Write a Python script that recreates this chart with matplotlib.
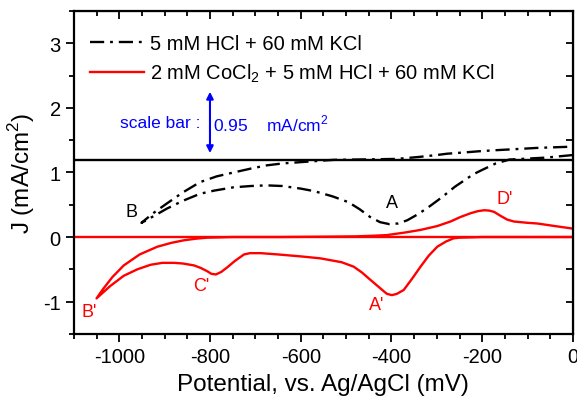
import numpy as np
import matplotlib
matplotlib.use('Agg')
import matplotlib.pyplot as plt
from matplotlib.ticker import MultipleLocator

plt.rcParams['font.family'] = ['Liberation Sans', 'DejaVu Sans']
plt.rcParams['mathtext.fontset'] = 'custom'
plt.rcParams['mathtext.rm'] = 'Liberation Sans'
plt.rcParams['axes.unicode_minus'] = False

# ---- data ----
# black CV (5 mM HCl + 60 mM KCl), shifted by the scale bar offset
hcl_E = [0, -30, -60, -100, -140, -170, -200, -220, -260, -290, -315, -340, -365, -385, -405,
         -425, -447, -470, -495, -530, -570, -600, -640, -675, -710, -748, -790, -822, -860,
         -895, -925, -951,
         -925, -895, -860, -822, -785, -748, -710, -675, -640, -600, -560, -528, -480, -430,
         -388, -340, -300, -278, -240, -204, -170, -130, -80, -40, 0]
hcl_J = [1.27, 1.25, 1.23, 1.215, 1.20, 1.14, 1.04, 0.97, 0.78, 0.61, 0.48, 0.36, 0.26, 0.21, 0.20,
         0.23, 0.31, 0.43, 0.54, 0.63, 0.71, 0.75, 0.79, 0.80, 0.79, 0.77, 0.72, 0.67, 0.56,
         0.44, 0.32, 0.22,
         0.37, 0.52, 0.69, 0.85, 0.94, 1.00, 1.06, 1.11, 1.14, 1.16, 1.18, 1.195, 1.20, 1.205,
         1.21, 1.24, 1.27, 1.29, 1.31, 1.33, 1.345, 1.36, 1.38, 1.39, 1.40]

# red CV (2 mM CoCl2 + 5 mM HCl + 60 mM KCl)
co_E = [0, -100, -200, -250, -263, -280, -299, -318, -336, -355, -373, -388, -399, -410, -417,
        -432, -447, -465, -483, -510, -557, -600, -650, -688, -712, -725, -745, -762, -775,
        -787, -797, -806, -820, -835, -860, -879, -905, -931, -960, -990, -1020, -1050,
        -1035, -1015, -990, -955, -916, -885, -857, -830, -806, -750, -650, -550, -480, -440,
        -410, -370, -336, -299, -270, -248, -225, -210, -196, -185, -174, -160, -145, -130,
        -100, -79, -40, 0]
co_J = [0.0, 0.0, 0.0, -0.01, -0.02, -0.07, -0.15, -0.29, -0.46, -0.65, -0.82, -0.88, -0.90, -0.88, -0.84,
        -0.75, -0.66, -0.55, -0.46, -0.39, -0.33, -0.30, -0.27, -0.25, -0.25, -0.27, -0.37, -0.47, -0.54,
        -0.58, -0.57, -0.53, -0.48, -0.44, -0.41, -0.40, -0.40, -0.43, -0.50, -0.60, -0.76, -0.95,
        -0.80, -0.62, -0.44, -0.27, -0.15, -0.09, -0.05, -0.025, -0.01, 0.0, 0.0, 0.005, 0.01, 0.02,
        0.03, 0.07, 0.11, 0.17, 0.24, 0.31, 0.37, 0.40, 0.415, 0.41, 0.39, 0.33, 0.27, 0.24,
        0.22, 0.21, 0.17, 0.13]

labels = ['5 mM HCl + 60 mM KCl', '2 mM CoCl$_2$ + 5 mM HCl + 60 mM KCl']
hcl_zero = 1.2   # offset baseline of the black curve
co_zero = 0.0
scale_bar = (1.3, 2.25)
peak_names = ['B', 'A', "B'", "C'", "A'", "D'"]
peak_E = [-973, -399, -1067, -820, -432, -150]
peak_J = [0.39, 0.53, -1.16, -0.75, -1.05, 0.6]
peak_col = ['black', 'black', 'red', 'red', 'red', 'red']

fig = plt.figure(figsize=(5.77, 4.02), dpi=100)
ax = fig.add_axes([0.128, 0.167, 0.865, 0.803])

ax.axhline(hcl_zero, color='black', lw=1.7)
ax.axhline(co_zero, color='red', lw=1.7)
ax.plot(hcl_E, hcl_J, color='black', lw=1.7, ls=(0, (6, 2.5, 1.2, 2.5)), label=labels[0])
ax.plot(co_E, co_J, color='red', lw=1.7, label=labels[1])

ax.annotate('', xy=(-800, scale_bar[1]), xytext=(-800, scale_bar[0]),
            arrowprops=dict(arrowstyle='<|-|>', color='#0000ff', lw=1.5,
                            mutation_scale=10, shrinkA=0, shrinkB=0))
ax.text(-820, 1.77, 'scale bar :', color='#0000ff', fontsize=12.5, ha='right', va='center')
ax.text(-793, 1.77, '0.95    mA/cm$^2$', color='#0000ff', fontsize=12.5, ha='left', va='center')

for n, x, y, c in zip(peak_names, peak_E, peak_J, peak_col):
    ax.text(x, y, n, color=c, fontsize=13, ha='center', va='center')

ax.set_xlim(-1100, 0)
ax.set_ylim(-1.5, 3.5)
ax.xaxis.set_major_locator(MultipleLocator(200))
ax.xaxis.set_minor_locator(MultipleLocator(50))
ax.yaxis.set_major_locator(MultipleLocator(1))
ax.yaxis.set_minor_locator(MultipleLocator(0.5))
ax.tick_params(which='both', direction='out', labelsize=14.5, width=1.3)
ax.tick_params(which='major', length=6)
ax.tick_params(which='minor', length=3.5)
for s in ax.spines.values():
    s.set_linewidth(1.6)

top = ax.secondary_xaxis('top')
top.xaxis.set_major_locator(MultipleLocator(200))
top.xaxis.set_minor_locator(MultipleLocator(50))
top.tick_params(which='both', direction='in', labeltop=False, width=1.3)
top.tick_params(which='major', length=6)
top.tick_params(which='minor', length=3.5)
right = ax.secondary_yaxis('right')
right.yaxis.set_major_locator(MultipleLocator(1))
right.yaxis.set_minor_locator(MultipleLocator(0.5))
right.tick_params(which='both', direction='in', labelright=False, width=1.3, length=5)

ax.set_xlabel('Potential, vs. Ag/AgCl (mV)', fontsize=17.5, labelpad=5)
ax.set_ylabel('J (mA/cm$^2$)', fontsize=17.5, labelpad=4)

ax.legend(loc='upper left', bbox_to_anchor=(0.032, 0.93), frameon=False, fontsize=14.5,
          handlelength=2.7, handletextpad=0.3, borderpad=0, borderaxespad=0, labelspacing=0.45)

plt.savefig('out.png', dpi=100)
